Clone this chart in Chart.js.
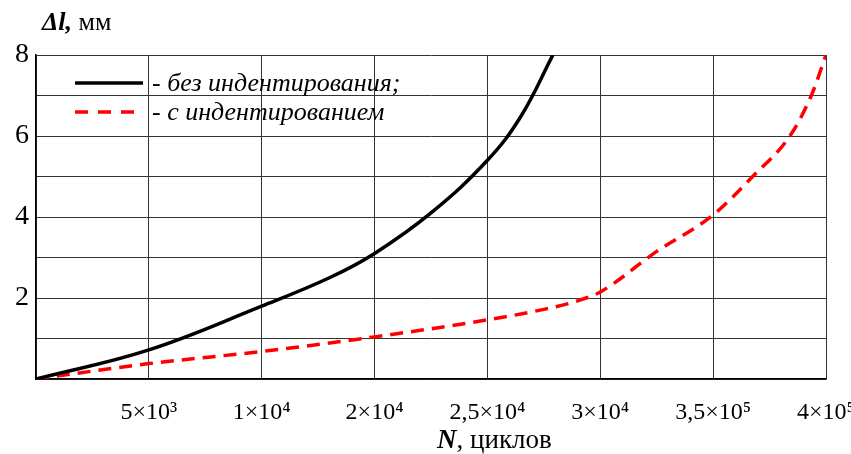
<!DOCTYPE html>
<html>
<head>
<meta charset="utf-8">
<script src="https://cdn.jsdelivr.net/npm/chart.js@4/dist/chart.umd.min.js"></script>
<style>
  html, body { margin: 0; padding: 0; background: #fff; }
  #wrap { width: 851px; height: 454px; }
</style>
</head>
<body>
<div id="wrap"><canvas id="chart" width="851" height="454"></canvas></div>
<script>
// x is measured in grid columns (0..7), labels below each column line
const xTickLabels = ['', '5×10³', '1×10⁴', '2×10⁴', '2,5×10⁴', '3×10⁴', '3,5×10⁵', '4×10⁵'];

// без индентирования
const plainX = [0, 1, 2, 2.6, 3, 3.5, 4, 4.3, 4.58];
const plainY = [0, 0.72, 1.8, 2.5, 3.1, 4.1, 5.4, 6.5, 8.0];

// с индентированием
const indentX = [0, 1, 2, 3, 4, 4.5, 4.8, 5, 5.5, 6, 6.35, 6.68, 6.87, 7];
const indentY = [0, 0.38, 0.68, 1.04, 1.46, 1.72, 1.93, 2.15, 3.15, 4.05, 5.0, 6.0, 7.0, 8.0];

const legendLabels = ['- без индентирования;', '- с индентированием'];

const serif = '"Liberation Serif", "Times New Roman", serif';

function toPoints(xs, ys) {
    return xs.map((x, i) => ({ x: x, y: ys[i] }));
}

// titles and legend drawn on top of the plot
const textPlugin = {
    id: 'texts',
    afterDraw(chart) {
        const ctx = chart.ctx;
        ctx.save();
        ctx.fillStyle = '#000';
        ctx.textBaseline = 'alphabetic';

        // y-axis title
        ctx.font = 'italic bold 26px ' + serif;
        ctx.fillText('Δl,', 42, 30);
        let w = ctx.measureText('Δl, ').width;
        ctx.font = '26px ' + serif;
        ctx.fillText('мм', 42 + w, 30);

        // x-axis title
        ctx.font = 'italic bold 27px ' + serif;
        ctx.fillText('N', 437, 448);
        w = ctx.measureText('N').width;
        ctx.font = '27px ' + serif;
        ctx.fillText(', циклов', 437 + w, 448);

        // legend
        ctx.lineWidth = 3.5;
        ctx.strokeStyle = '#000';
        ctx.beginPath();
        ctx.moveTo(75, 83);
        ctx.lineTo(143, 83);
        ctx.stroke();

        ctx.strokeStyle = '#ff0000';
        ctx.setLineDash([13, 10]);
        ctx.beginPath();
        ctx.moveTo(75, 112);
        ctx.lineTo(136, 112);
        ctx.stroke();
        ctx.setLineDash([]);

        ctx.font = 'italic 26px ' + serif;
        ctx.fillText(legendLabels[0], 152, 91);
        ctx.fillText(legendLabels[1], 152, 120);
        ctx.restore();
    }
};

new Chart(document.getElementById('chart'), {
    type: 'line',
    data: {
        datasets: [{
            label: legendLabels[0],
            data: toPoints(plainX, plainY),
            borderColor: '#000',
            borderWidth: 3.5,
            pointRadius: 0,
            tension: 0.4,
            fill: false
        }, {
            label: legendLabels[1],
            data: toPoints(indentX, indentY),
            borderColor: '#ff0000',
            borderWidth: 3.5,
            borderDash: [13, 8],
            pointRadius: 0,
            cubicInterpolationMode: 'monotone',
            fill: false
        }]
    },
    options: {
        responsive: false,
        animation: false,
        layout: { padding: { top: 55, right: 25, left: 0, bottom: 0 } },
        plugins: {
            legend: { display: false },
            tooltip: { enabled: false }
        },
        scales: {
            x: {
                type: 'linear',
                min: 0,
                max: 7,
                afterFit(scale) {
                    scale.height = 75;
                    scale.paddingLeft = 0;
                    scale.paddingRight = 0;
                },
                grid: { color: '#333', lineWidth: 1, drawTicks: false },
                border: { color: '#000', width: 1.5 },
                ticks: {
                    stepSize: 1,
                    autoSkip: false,
                    maxRotation: 0,
                    padding: 19,
                    color: '#000',
                    font: { family: serif, size: 24 },
                    callback: (v) => xTickLabels[v] ?? ''
                }
            },
            y: {
                min: 0,
                max: 8,
                afterFit(scale) {
                    scale.width = 36;
                },
                grid: { color: '#333', lineWidth: 1, drawTicks: false },
                border: { color: '#000', width: 1.5 },
                ticks: {
                    stepSize: 1,
                    padding: 7,
                    color: '#000',
                    font: { family: serif, size: 28 },
                    callback: (v) => (v > 0 && v % 2 === 0) ? String(v) : ''
                }
            }
        }
    },
    plugins: [textPlugin]
});
</script>
</body>
</html>
